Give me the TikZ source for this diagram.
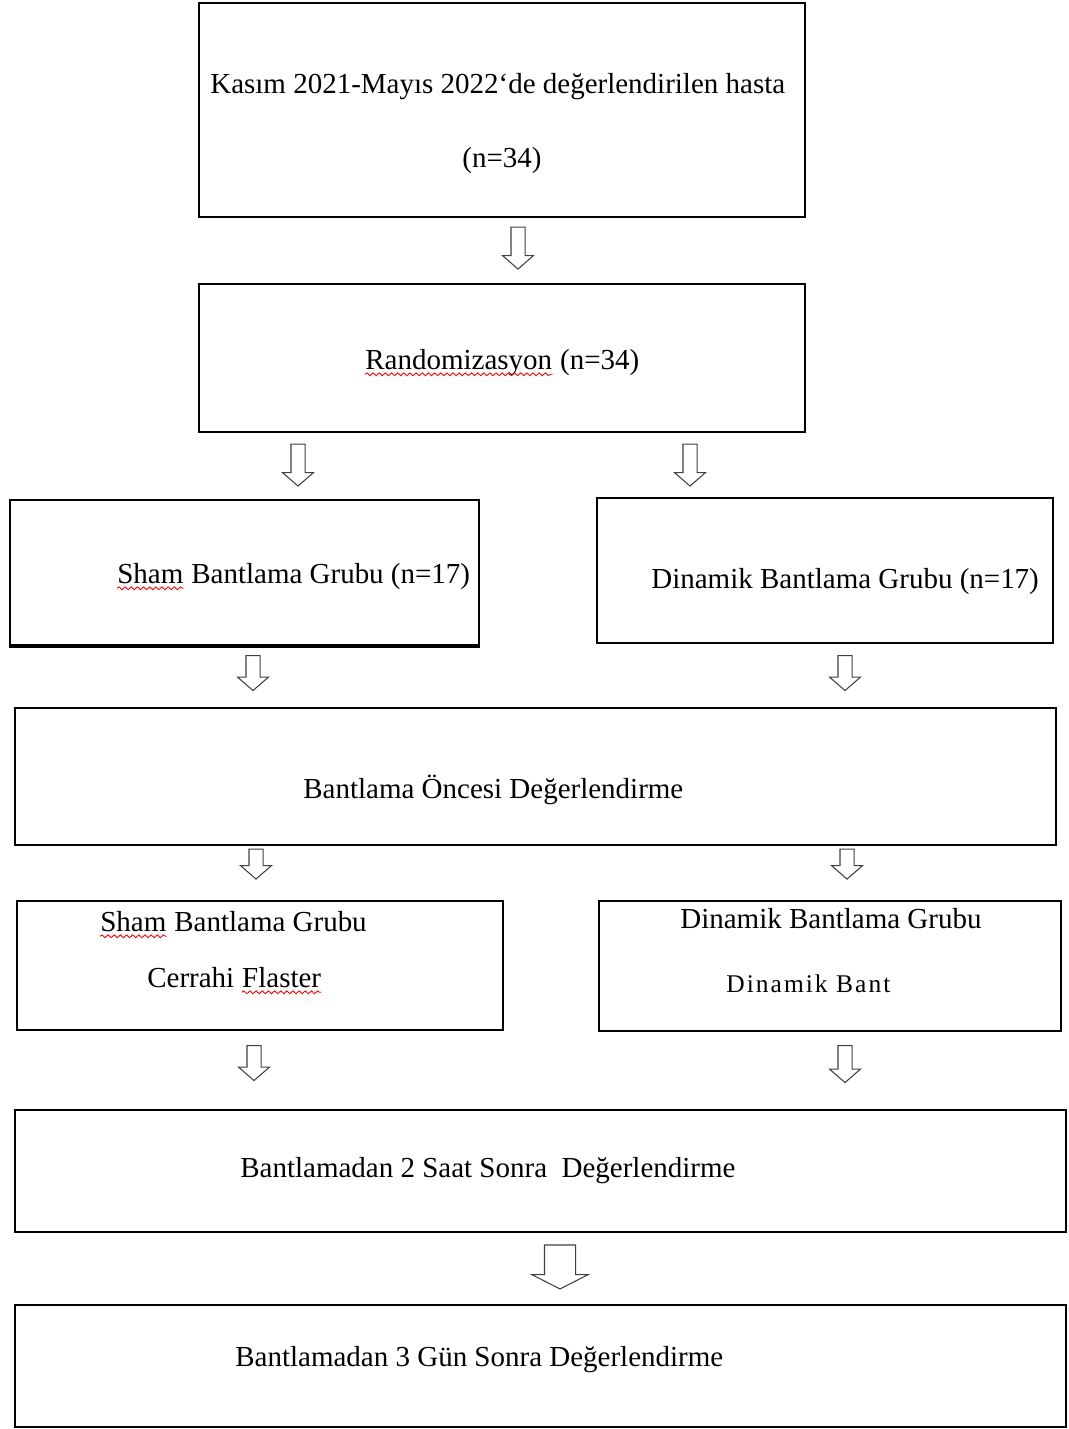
\documentclass[tikz,border=0pt]{standalone}
\usepackage{fontspec}
\setmainfont{Liberation Serif}
\usetikzlibrary{positioning,fit,shapes.arrows,decorations.pathmorphing}

\begin{document}
\begin{tikzpicture}
    [x=0.02cm, y=-0.02cm,
     box/.style={rectangle,draw=black,line width=1pt,inner sep=0pt},
     txt/.style={inner sep=0pt,anchor=base west,font=\fontsize{16.5}{20}\selectfont},
     hollow/.style={single arrow,draw=black!75,line width=0.6pt,shape border rotate=270,
       inner sep=0.13cm,single arrow head extend=0.17cm,
       single arrow tip angle=98,minimum height=0.84cm},
     squig/.style={draw=red,line width=0.5pt,decorate,
       decoration={snake,amplitude=0.8pt,segment length=3.5pt}}]

    \useasboundingbox (0,0) rectangle (1068,1429);

    % boxes
    \node[box] (patients) [fit={(199,3) (805,217)}] {};
    \node[box] (random) [fit={(199,284) (805,432)}] {};
    \node[box] (sham) [fit={(10,500) (479,645)}] {};
    \node[box] (dynamic) [fit={(597,498) (1053,643)}] {};
    \node[box] (before) [fit={(15,708) (1056,845)}] {};
    \node[box] (shamtape) [fit={(17,901) (503,1030)}] {};
    \node[box] (dyntape) [fit={(599,901) (1061,1031)}] {};
    \node[box] (hours) [fit={(15,1110) (1066,1232)}] {};
    \node[box] (days) [fit={(15,1305) (1066,1427)}] {};
    \draw[line width=2pt] (sham.south west) -- (sham.south east);

    % texts
    \node[txt] (patientsa) at (210,94) {Kasım 2021-Mayıs 2022‘de değerlendirilen hasta};
    \node[txt] (patientsb) at (462,168) {(n=34)};
    \node[txt] (randword) at (365,369) {Randomizasyon};
    \node[txt] (randrest) at (randword.base east) {\ (n=34)};
    \node[txt] (shamword) at (117,583) {Sham};
    \node[txt] (shamrest) at (shamword.base east) {\ Bantlama Grubu (n=17)};
    \node[txt] (dyntxt) at (651,588) {Dinamik Bantlama Grubu (n=17)};
    \node[txt] (beforetxt) at (303,798) {Bantlama Öncesi Değerlendirme};
    \node[txt] (shamword2) at (100,931) {Sham};
    \node[txt] (shamrest2) at (shamword2.base east) {\ Bantlama Grubu};
    \node[txt] (cerrahi) at (147,987) {Cerrahi\ \mbox{}};
    \node[txt] (flaster) at (cerrahi.base east) {Flaster};
    \node[txt] (dyntxt2) at (680,928) {Dinamik Bantlama Grubu};
    \node[txt, font=\fontsize{14.5}{18}\selectfont\addfontfeatures{LetterSpace=8}] (dynbant) at (726,992) {Dinamik Bant};
    \node[txt] (hourstxt) at (240,1177) {Bantlamadan 2 Saat Sonra\ \ Değerlendirme};
    \node[txt] (daystxt) at (235,1366) {Bantlamadan 3 Gün Sonra Değerlendirme};

    % spelling marks
    \draw[squig] ([yshift=-3pt]randword.base west) -- ([yshift=-3pt]randword.base east);
    \draw[squig] ([yshift=-3pt]shamword.base west) -- ([yshift=-3pt]shamword.base east);
    \draw[squig] ([yshift=-3pt]shamword2.base west) -- ([yshift=-3pt]shamword2.base east);
    \draw[squig] ([yshift=-3pt]flaster.base west) -- ([yshift=-3pt]flaster.base east);

    % arrows
    \node[hollow] (a1) at (518,245) {};
    \node[hollow] (a2) at (298,462) {};
    \node[hollow] (a3) at (690,462) {};
    \node[hollow, minimum height=0.7cm] (a4) at (253,670) {};
    \node[hollow, minimum height=0.7cm] (a5) at (845,670) {};
    \node[hollow, minimum height=0.6cm] (a6) at (256,861) {};
    \node[hollow, minimum height=0.6cm] (a7) at (847,861) {};
    \node[hollow, minimum height=0.7cm] (a8) at (254,1060) {};
    \node[hollow, minimum height=0.74cm] (a9) at (845,1061) {};
    \node[hollow, inner sep=0.3cm, single arrow head extend=0.25cm,
      single arrow tip angle=126, minimum height=0.88cm] (a10) at (560,1263) {};
\end{tikzpicture}
\end{document}
